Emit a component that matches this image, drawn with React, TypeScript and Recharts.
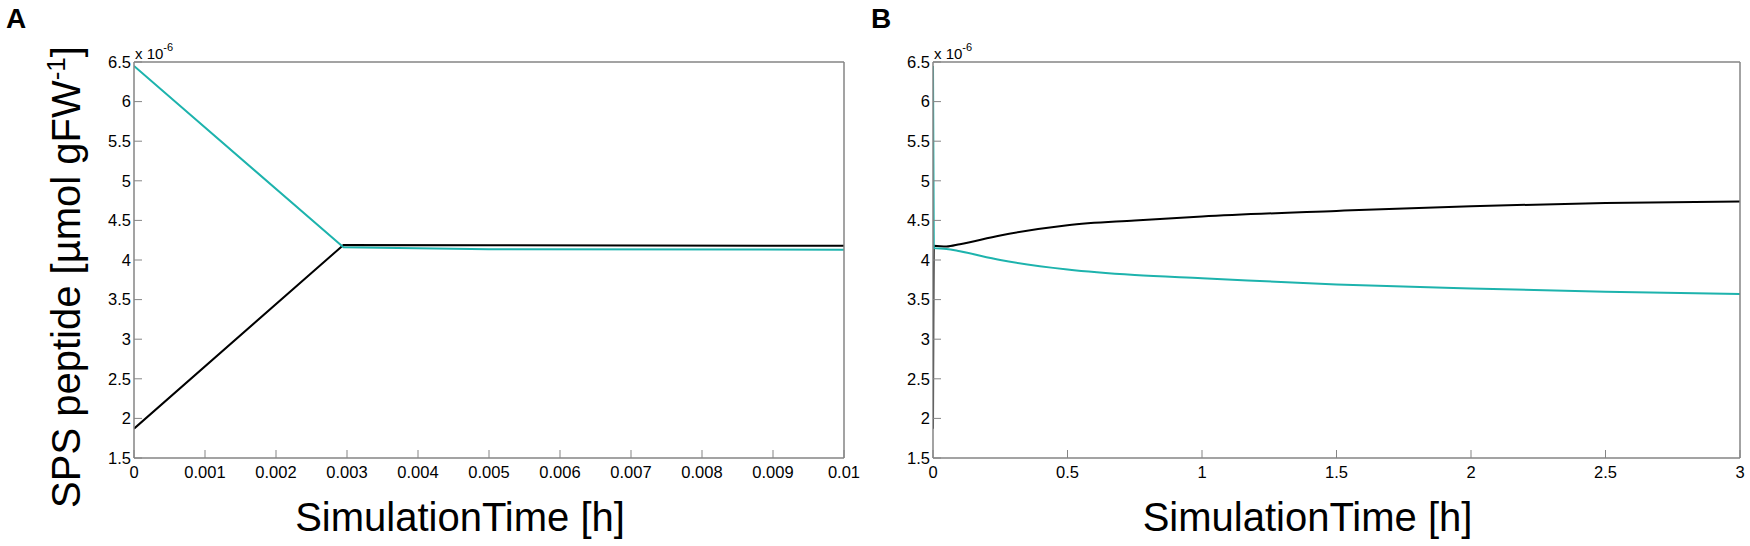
import { LineChart, Line, XAxis, YAxis, Label } from 'recharts';

// values in units of 1e-6 µmol gFW-1
const timesA = [0, 0.00295, 0.005, 0.01];
const blackA = [1.87, 4.19, 4.185, 4.18];
const tealA = [6.45, 4.16, 4.135, 4.13];

const timesB = [0, 0.003, 0.05, 0.1, 0.25, 0.5, 0.75, 1, 1.5, 2, 2.5, 3];
const blackB = [1.87, 4.18, 4.17, 4.2, 4.31, 4.44, 4.5, 4.55, 4.62, 4.68, 4.72, 4.74];
const tealB = [6.45, 4.15, 4.14, 4.11, 4.0, 3.88, 3.81, 3.77, 3.69, 3.64, 3.6, 3.57];

const ticksA = [0, 0.001, 0.002, 0.003, 0.004, 0.005, 0.006, 0.007, 0.008, 0.009, 0.01];
const ticksB = [0, 0.5, 1, 1.5, 2, 2.5, 3];
const yTicks = [1.5, 2, 2.5, 3, 3.5, 4, 4.5, 5, 5.5, 6, 6.5];

const FONT = '"Liberation Sans", Arial, Helvetica, sans-serif';
const AXIS = '#858585';
const TEAL = '#1db3ad';
const H = 546;
const XH = 30; // bottom axis box height
const YW = 60; // left axis box width

const rows = (t: number[], b: number[], c: number[]) =>
  t.map((time, i) => ({ time, black: b[i], teal: c[i] }));

const tickStyle = { fontSize: 16.5, fill: '#000', fontFamily: FONT };

function Panel({
  letter, data, xTicks, xMax, width, plot, showYLabel,
}: {
  letter: string;
  data: { time: number; black: number; teal: number }[];
  xTicks: number[];
  xMax: number;
  width: number;
  plot: { top: number; right: number; bottom: number; left: number };
  showYLabel?: boolean;
}) {
  const margin = {
    top: plot.top - 1,
    right: plot.right - 1,
    bottom: plot.bottom - XH,
    left: plot.left - YW,
  };
  const plotW = width - plot.left - plot.right;
  return (
    <LineChart width={width} height={H} data={data} margin={margin} style={{ overflow: 'visible' }}>
      <XAxis
        dataKey="time"
        type="number"
        domain={[0, xMax]}
        ticks={xTicks}
        allowDataOverflow
        height={XH}
        tickSize={-8}
        tickMargin={16}
        interval={0}
        tick={tickStyle}
        axisLine={{ stroke: AXIS, strokeWidth: 1.5 }}
        tickLine={{ stroke: AXIS, strokeWidth: 1 }}
        tickFormatter={(v: number) => String(v)}
      >
        <Label
          content={() => (
            <text
              x={plot.left + plotW / 2 - 29}
              y={531}
              textAnchor="middle"
              fontSize={40}
              fontFamily={FONT}
              fill="#000"
            >
              SimulationTime [h]
            </text>
          )}
        />
      </XAxis>
      <XAxis
        xAxisId="top"
        orientation="top"
        dataKey="time"
        type="number"
        domain={[0, xMax]}
        ticks={xTicks}
        allowDataOverflow
        height={1}
        tickSize={-8}
        tick={false}
        interval={0}
        axisLine={{ stroke: AXIS, strokeWidth: 1.5 }}
        tickLine={{ stroke: AXIS, strokeWidth: 1 }}
      >
        <Label
          content={() => (
            <g fontFamily={FONT} fill="#000">
              <text x={letter === 'A' ? 6 : 11} y={28} fontSize={28} fontWeight="bold">
                {letter}
              </text>
              <text x={plot.left + 1} y={59} fontSize={15}>
                x 10<tspan dy={-8} fontSize={11}>-6</tspan>
              </text>
            </g>
          )}
        />
      </XAxis>
      <YAxis
        type="number"
        domain={[1.5, 6.5]}
        ticks={yTicks}
        allowDataOverflow
        width={YW}
        tickSize={-8}
        tickMargin={11}
        interval={0}
        tick={tickStyle}
        axisLine={{ stroke: AXIS, strokeWidth: 1.5 }}
        tickLine={{ stroke: AXIS, strokeWidth: 1 }}
      >
        {showYLabel && (
          <Label
            content={() => (
              <text
                x={80}
                y={277}
                transform="rotate(-90 80 277)"
                textAnchor="middle"
                fontSize={40}
                fontFamily={FONT}
                fill="#000"
              >
                SPS peptide [µmol gFW<tspan dy={-15} fontSize={26}>-1</tspan>
                <tspan dy={15}>]</tspan>
              </text>
            )}
          />
        )}
      </YAxis>
      <YAxis
        yAxisId="right"
        orientation="right"
        type="number"
        domain={[1.5, 6.5]}
        ticks={yTicks}
        allowDataOverflow
        width={1}
        tickSize={-8}
        tick={false}
        interval={0}
        axisLine={{ stroke: AXIS, strokeWidth: 1.5 }}
        tickLine={{ stroke: AXIS, strokeWidth: 1 }}
      />
      <Line
        dataKey="black"
        type={letter === 'A' ? 'linear' : 'monotone'}
        stroke="#000"
        strokeWidth={2}
        dot={false}
        isAnimationActive={false}
      />
      <Line
        dataKey="teal"
        type={letter === 'A' ? 'linear' : 'monotone'}
        stroke={TEAL}
        strokeWidth={2}
        dot={false}
        isAnimationActive={false}
      />
    </LineChart>
  );
}

export default function App() {
  return (
    <div style={{ position: 'absolute', left: 0, top: 0, width: 1750, height: H, background: '#fff' }}>
      <div style={{ position: 'absolute', left: 0, top: 0 }}>
        <Panel
          letter="A"
          data={rows(timesA, blackA, tealA)}
          xTicks={ticksA}
          xMax={0.01}
          width={860}
          plot={{ top: 62, right: 16, bottom: 88, left: 134 }}
          showYLabel
        />
      </div>
      <div style={{ position: 'absolute', left: 860, top: 0 }}>
        <Panel
          letter="B"
          data={rows(timesB, blackB, tealB)}
          xTicks={ticksB}
          xMax={3}
          width={890}
          plot={{ top: 62, right: 10, bottom: 88, left: 73 }}
        />
      </div>
    </div>
  );
}
